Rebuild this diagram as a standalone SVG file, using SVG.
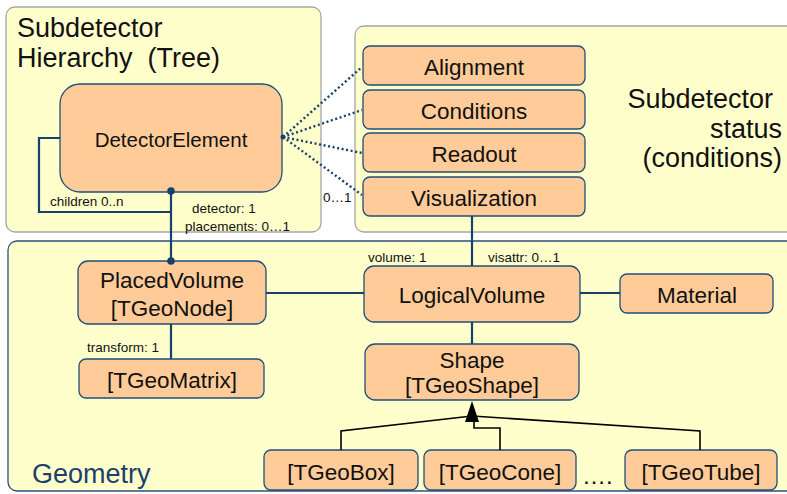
<svg xmlns="http://www.w3.org/2000/svg" width="787" height="494" viewBox="0 0 787 494">
<defs>
<style>
.panel{fill:#FFFFCC;stroke:#A6A6A6;stroke-width:1.3}
.gpanel{fill:#FFFFCC;stroke:#2B4F7E;stroke-width:1.3}
.node{fill:#FFCC99;stroke:#1F4E79;stroke-width:1.3}
.t{font-family:"Liberation Sans",Arial,sans-serif;fill:#111;text-anchor:middle}
.n{font-size:22.5px}
.s{font-family:"Liberation Sans",Arial,sans-serif;fill:#111;font-size:13.5px}
.title{font-family:"Liberation Sans",Arial,sans-serif;fill:#111;font-size:27px}
.link{fill:none;stroke:#17406D;stroke-width:2.2}
.dot{fill:none;stroke:#17406D;stroke-width:2.4;stroke-dasharray:2 2.6}
.inh{fill:none;stroke:#000;stroke-width:1.6}
</style>
</defs>
<rect width="787" height="494" fill="#FFFFFF"/>

<g id="panel-hierarchy">
<rect class="panel" x="6" y="7" width="315" height="225" rx="9"/>
<text class="title" x="17" y="37">Subdetector</text>
<text class="title" x="17" y="67" xml:space="preserve">Hierarchy  (Tree)</text>
</g>
<g id="panel-status">
<rect class="panel" x="355" y="26" width="460" height="206" rx="9"/>
<text class="title" x="773" y="108" text-anchor="end">Subdetector</text>
<text class="title" x="782" y="138" text-anchor="end">status</text>
<text class="title" x="782" y="167" text-anchor="end">(conditions)</text>
</g>
<g id="panel-geometry">
<rect class="gpanel" x="8" y="241" width="810" height="250" rx="9"/>
<text x="32" y="483" style="font-family:'Liberation Sans',Arial,sans-serif;font-size:27px;fill:#1C3F6E">Geometry</text>
</g>

<g id="node-detectorelement">
<rect class="node" x="60" y="84" width="222" height="108" rx="20"/>
<text class="t" x="171" y="147" font-size="20.5">DetectorElement</text>
</g>
<g id="node-alignment">
<rect class="node" x="363" y="46" width="222" height="39" rx="7"/>
<text class="t n" x="474" y="75">Alignment</text>
</g>
<g id="node-conditions">
<rect class="node" x="363" y="90" width="222" height="39" rx="7"/>
<text class="t n" x="474" y="119">Conditions</text>
</g>
<g id="node-readout">
<rect class="node" x="363" y="133" width="222" height="39" rx="7"/>
<text class="t n" x="474" y="162">Readout</text>
</g>
<g id="node-visualization">
<rect class="node" x="363" y="177" width="222" height="39" rx="7"/>
<text class="t n" x="474" y="206">Visualization</text>
</g>
<g id="node-placedvolume">
<rect class="node" x="78" y="261" width="188" height="63" rx="10"/>
<text class="t n" x="172" y="288">PlacedVolume</text>
<text class="t n" x="172" y="316">[TGeoNode]</text>
</g>
<g id="node-tgeomatrix">
<rect class="node" x="79" y="359" width="185" height="39" rx="7"/>
<text class="t n" x="172" y="388">[TGeoMatrix]</text>
</g>
<g id="node-logicalvolume">
<rect class="node" x="364" y="266" width="216" height="56" rx="10"/>
<text class="t n" x="472" y="303">LogicalVolume</text>
</g>
<g id="node-material">
<rect class="node" x="620" y="274" width="153" height="39" rx="7"/>
<text class="t n" x="697" y="303">Material</text>
</g>
<g id="node-shape">
<rect class="node" x="365" y="344" width="214" height="56" rx="10"/>
<text class="t n" x="472" y="368">Shape</text>
<text class="t n" x="472" y="393">[TGeoShape]</text>
</g>
<g id="node-tgeobox">
<rect class="node" x="264" y="450" width="154" height="40" rx="7"/>
<text class="t n" x="341" y="480">[TGeoBox]</text>
</g>
<g id="node-tgeocone">
<rect class="node" x="424" y="450" width="152" height="40" rx="7"/>
<text class="t n" x="500" y="480">[TGeoCone]</text>
</g>
<g id="node-tgeotube">
<rect class="node" x="625" y="450" width="152" height="40" rx="7"/>
<text class="t n" x="701" y="480">[TGeoTube]</text>
</g>
<text x="582" y="484" style="font-family:'Liberation Sans',Arial,sans-serif;font-size:24px;fill:#111">….</text>

<g id="connectors">
<polyline class="link" points="60,138 39,138 39,212 171,212"/>
<line class="link" x1="171" y1="191" x2="171" y2="261"/>
<circle cx="171" cy="191" r="3.8" fill="#17406D"/>
<circle cx="171" cy="261" r="3.8" fill="#17406D"/>
<line class="link" x1="171" y1="324" x2="171" y2="359"/>
<line class="link" x1="266" y1="293" x2="364" y2="293"/>
<line class="link" x1="580" y1="293" x2="620" y2="293"/>
<line class="link" x1="472" y1="216" x2="472" y2="266"/>
<line class="link" x1="472" y1="322" x2="472" y2="344"/>
<line class="dot" x1="283" y1="137" x2="362" y2="67"/>
<line class="dot" x1="283" y1="137" x2="362" y2="110"/>
<line class="dot" x1="283" y1="137" x2="362" y2="153"/>
<line class="dot" x1="283" y1="137" x2="362" y2="195"/>
<circle cx="283" cy="137" r="2.5" fill="#17406D"/>
<polyline class="inh" points="472,416 341,431 341,450"/>
<polyline class="inh" points="472,416 700,431 700,450"/>
<polyline class="inh" points="474,420 474,428 500,428 500,450"/>
<polygon points="472,401 465,422 479,422" fill="#000"/>
<text class="s" x="50" y="206">children 0..n</text>
<text class="s" x="192" y="213">detector: 1</text>
<text class="s" x="185" y="231">placements: 0…1</text>
<text class="s" x="323" y="202">0…1</text>
<text class="s" x="368" y="262">volume: 1</text>
<text class="s" x="488" y="262">visattr: 0…1</text>
<text class="s" x="87" y="352">transform: 1</text>
</g>
</svg>
